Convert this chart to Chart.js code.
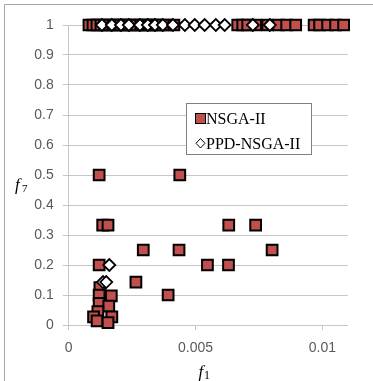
<!DOCTYPE html>
<html>
<head>
<meta charset="utf-8">
<script src="https://cdn.jsdelivr.net/npm/chart.js@4.4.0/dist/chart.umd.min.js"></script>
<style>
  html, body { margin: 0; padding: 0; background: #ffffff; }
  #wrap { position: relative; width: 373px; height: 381px; }
</style>
</head>
<body>
<div id="wrap"><canvas id="c" width="373" height="381"></canvas></div>
<script>
// Series labels
const seriesNames = ['NSGA-II', 'PPD-NSGA-II'];

// NSGA-II solutions (f1, f7)
const nsgaX = [
  0.000799, 0.000957, 0.001114, 0.001272, 0.001429, 0.001587, 0.001744, 0.001902,
  0.002059, 0.002217, 0.002374, 0.002531, 0.002689, 0.002846, 0.003004, 0.003161,
  0.003319, 0.003476, 0.003634, 0.003870, 0.004146,
  0.006665, 0.006862, 0.007059, 0.007374, 0.007846, 0.008280, 0.008594, 0.008949,
  0.009677, 0.009894, 0.010209, 0.010524, 0.010839,
  0.00120, 0.00438,
  0.00134, 0.00155, 0.00631, 0.00737,
  0.00294, 0.00435, 0.00802,
  0.00120, 0.00547, 0.00630,
  0.00265, 0.00392,
  0.00123, 0.00120, 0.00120, 0.00168, 0.00158, 0.00115,
  0.00098, 0.00170, 0.00112, 0.00155
];
const nsgaY = [
  1, 1, 1, 1, 1, 1, 1, 1,
  1, 1, 1, 1, 1, 1, 1, 1,
  1, 1, 1, 1, 1,
  1, 1, 1, 1, 1, 1, 1, 1,
  1, 1, 1, 1, 1,
  0.5, 0.5,
  0.333, 0.333, 0.333, 0.333,
  0.25, 0.25, 0.25,
  0.2, 0.2, 0.2,
  0.143, 0.1,
  0.125, 0.1, 0.072, 0.097, 0.063, 0.045,
  0.027, 0.027, 0.014, 0.008
];

// PPD-NSGA-II solutions (f1, f7)
const ppdX = [
  0.00131, 0.00170, 0.00206, 0.00237, 0.00281, 0.00312, 0.00340, 0.00371,
  0.00411, 0.00458, 0.00497, 0.00536, 0.00580, 0.00615, 0.00726, 0.00793,
  0.00160, 0.00135, 0.00148
];
const ppdY = [
  1, 1, 1, 1, 1, 1, 1, 1,
  1, 1, 1, 1, 1, 1, 1, 1,
  0.2, 0.143, 0.143
];

// Axis ticks
const xTickValues = [0, 0.005, 0.01];
const xTickLabels = ['0', '0.005', '0.01'];
const yTickValues = [0, 0.1, 0.2, 0.3, 0.4, 0.5, 0.6, 0.7, 0.8, 0.9, 1];
const yTickLabels = ['0', '0.1', '0.2', '0.3', '0.4', '0.5', '0.6', '0.7', '0.8', '0.9', '1'];

const toPoints = (xs, ys) => xs.map((x, i) => ({ x: x, y: ys[i] }));

const SQUARE_FILL = '#C0504D';
const GRID = '#c6c6c6';
const TICK_TEXT = '#595959';

// Legend box, axis titles and outer frame
const decorations = {
  id: 'decorations',
  afterDatasetsDraw(chart) {
    const ctx = chart.ctx;
    ctx.save();
    // legend box
    ctx.fillStyle = '#ffffff';
    ctx.fillRect(186.5, 103.5, 125, 51);
    ctx.strokeStyle = '#808080';
    ctx.lineWidth = 1;
    ctx.strokeRect(186.5, 103.5, 125, 51);
    // square marker
    ctx.fillStyle = SQUARE_FILL;
    ctx.fillRect(195.5, 113.5, 10, 10);
    ctx.strokeStyle = '#000';
    ctx.strokeRect(195.5, 113.5, 10, 10);
    // diamond marker
    ctx.beginPath();
    ctx.moveTo(200.5, 138.5);
    ctx.lineTo(205, 143.3);
    ctx.lineTo(200.5, 148);
    ctx.lineTo(196, 143.3);
    ctx.closePath();
    ctx.fillStyle = '#fff';
    ctx.fill();
    ctx.stroke();
    ctx.fillStyle = '#000';
    ctx.font = '16px "Liberation Serif"';
    ctx.textBaseline = 'alphabetic';
    ctx.textAlign = 'left';
    ctx.fillText(chart.data.datasets[0].label, 206, 124);
    ctx.fillText(chart.data.datasets[1].label, 206, 149);

    // y axis title f7
    ctx.font = 'italic 17px "Liberation Serif"';
    ctx.fillText('f', 15, 190);
    ctx.font = '11px "Liberation Serif"';
    ctx.fillText('7', 22, 192);
    // x axis title f1
    ctx.font = 'italic 17px "Liberation Serif"';
    ctx.fillText('f', 198.5, 377);
    ctx.font = '12px "Liberation Serif"';
    ctx.fillText('1', 204, 379);

    // outer frame (left and top edges)
    ctx.strokeStyle = '#a6a6a6';
    ctx.beginPath();
    ctx.moveTo(4.5, 381);
    ctx.lineTo(4.5, 4.5);
    ctx.lineTo(373, 4.5);
    ctx.stroke();
    ctx.restore();
  }
};

new Chart(document.getElementById('c'), {
  type: 'scatter',
  data: {
    datasets: [
      {
        label: seriesNames[0],
        data: toPoints(nsgaX, nsgaY),
        pointStyle: 'rect',
        pointRadius: 7.6,
        backgroundColor: SQUARE_FILL,
        borderColor: '#000000',
        borderWidth: 2,
        clip: false,
        order: 2
      },
      {
        label: seriesNames[1],
        data: toPoints(ppdX, ppdY),
        pointStyle: 'rectRot',
        pointRadius: 6,
        backgroundColor: '#ffffff',
        borderColor: '#000000',
        borderWidth: 1.8,
        clip: false,
        order: 1
      }
    ]
  },
  options: {
    responsive: false,
    devicePixelRatio: 1,
    animation: false,
    events: [],
    layout: { padding: { left: 0, right: 25.3, top: 25, bottom: 0 } },
    plugins: {
      legend: { display: false },
      tooltip: { enabled: false }
    },
    scales: {
      x: {
        type: 'linear',
        min: 0,
        max: 0.011,
        afterFit: s => { s.height = 56; },
        afterBuildTicks: s => { s.ticks = xTickValues.map(v => ({ value: v })); },
        grid: { drawOnChartArea: false, drawTicks: true, tickLength: 5, color: GRID },
        border: { display: true, color: GRID },
        ticks: {
          color: TICK_TEXT,
          font: { family: 'Liberation Sans', size: 14 },
          padding: 10,
          maxRotation: 0,
          callback: (v, i) => xTickLabels[i]
        }
      },
      y: {
        type: 'linear',
        min: 0,
        max: 1,
        afterFit: s => { s.width = 68.7; },
        afterBuildTicks: s => { s.ticks = yTickValues.map(v => ({ value: v })); },
        grid: { drawOnChartArea: true, drawTicks: true, tickLength: 6, color: GRID },
        border: { display: true, color: GRID },
        ticks: {
          color: TICK_TEXT,
          font: { family: 'Liberation Sans', size: 14 },
          padding: 9,
          callback: (v, i) => yTickLabels[i]
        }
      }
    }
  },
  plugins: [decorations]
});
</script>
</body>
</html>
